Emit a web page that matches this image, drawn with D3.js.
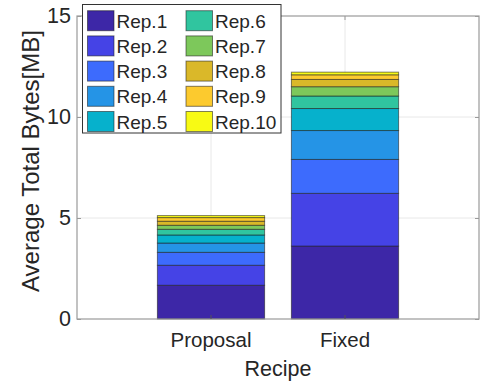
<!DOCTYPE html>
<html>
<head>
<meta charset="utf-8">
<script src="https://cdn.jsdelivr.net/npm/d3@7"></script>
<style>
  html, body { margin: 0; padding: 0; background: #fff; }
  svg { display: block; font-family: "Liberation Sans", Arial, sans-serif; }
</style>
</head>
<body>
<svg id="chart" width="480" height="382"></svg>
<script>
// Stacked bars: average total bytes per repetition for each recipe
const recipes = ["Proposal", "Fixed"];
const reps = ["Rep.1", "Rep.2", "Rep.3", "Rep.4", "Rep.5", "Rep.6", "Rep.7", "Rep.8", "Rep.9", "Rep.10"];
const proposalMB = [1.67, 0.99, 0.64, 0.46, 0.40, 0.28, 0.20, 0.20, 0.18, 0.10];
const fixedMB    = [3.61, 2.61, 1.68, 1.43, 1.09, 0.62, 0.46, 0.36, 0.23, 0.13];
const repColors = ["#3d27a7", "#4543e6", "#3d6bfd", "#2594e6", "#06b1cc",
                   "#30c59f", "#7dc85b", "#dab829", "#fcca2e", "#f8fa14"];
const yTicks = [0, 5, 10, 15];
const yLabel = "Average Total Bytes[MB]";
const xLabel = "Recipe";

const svg = d3.select("#chart");
const plotL = 77, plotR = 479, plotT = 16, plotB = 319;

const x = d3.scaleBand().domain(recipes).range([plotL, plotR])
  .paddingInner(0.2).paddingOuter(0.6);
const y = d3.scaleLinear().domain([0, 15]).range([plotB, plotT]);
const color = d3.scaleOrdinal().domain(reps).range(repColors);

// Table of rows for d3.stack
const rows = recipes.map((r, i) => {
  const src = i === 0 ? proposalMB : fixedMB;
  const o = { recipe: r };
  reps.forEach((k, j) => { o[k] = src[j]; });
  return o;
});
const series = d3.stack().keys(reps)(rows);

const axisGray = "#9a9a9a";
const textColor = "#262626";
const fontStack = "'Liberation Sans', Arial, sans-serif";

// Grid lines
const grid = svg.append("g");
grid.selectAll("line.gy").data(yTicks.filter(t => t > 0 && t < 15)).join("line")
  .attr("x1", plotL).attr("x2", plotR)
  .attr("y1", d => y(d)).attr("y2", d => y(d))
  .attr("stroke", "#e8e8e8").attr("stroke-width", 1);
grid.selectAll("line.gx").data(recipes).join("line")
  .attr("x1", d => x(d) + x.bandwidth() / 2).attr("x2", d => x(d) + x.bandwidth() / 2)
  .attr("y1", plotT).attr("y2", plotB)
  .attr("stroke", "#e8e8e8").attr("stroke-width", 1);

// Bars
svg.append("g").selectAll("g").data(series).join("g")
  .attr("fill", d => color(d.key))
  .selectAll("rect").data(d => d).join("rect")
  .attr("x", d => x(d.data.recipe))
  .attr("width", x.bandwidth())
  .attr("y", d => y(d[1]))
  .attr("height", d => y(d[0]) - y(d[1]))
  .attr("stroke", "#1a1a1a").attr("stroke-opacity", 0.55).attr("stroke-width", 1);

// Axis box
svg.append("rect")
  .attr("x", plotL).attr("y", plotT)
  .attr("width", plotR - plotL).attr("height", plotB - plotT)
  .attr("fill", "none").attr("stroke", axisGray).attr("stroke-width", 1.2);

// Y axis (ticks inward) and mirrored ticks on the right
const yAxis = d3.axisLeft(y).tickValues(yTicks).tickSize(-4).tickPadding(6);
const gy = svg.append("g").attr("transform", `translate(${plotL},0)`).call(yAxis);
gy.select(".domain").remove();
gy.selectAll(".tick line").attr("stroke", axisGray);
gy.selectAll(".tick text").attr("fill", textColor)
  .style("font-family", fontStack).style("font-size", "21.5px");

const gyR = svg.append("g").attr("transform", `translate(${plotR},0)`)
  .call(d3.axisRight(y).tickValues(yTicks).tickSize(-4).tickFormat(""));
gyR.select(".domain").remove();
gyR.selectAll(".tick line").attr("stroke", axisGray);

// X axis
const xAxis = d3.axisBottom(x).tickSize(-4).tickPadding(13);
const gx = svg.append("g").attr("transform", `translate(0,${plotB})`).call(xAxis);
gx.select(".domain").remove();
gx.selectAll(".tick line").attr("stroke", "#555");
gx.selectAll(".tick text").attr("fill", textColor)
  .style("font-family", fontStack).style("font-size", "20.5px");

const gxT = svg.append("g").attr("transform", `translate(0,${plotT})`)
  .call(d3.axisTop(x).tickSize(-4).tickFormat(""));
gxT.select(".domain").remove();
gxT.selectAll(".tick line").attr("stroke", axisGray);

// Axis titles
svg.append("text")
  .attr("x", (plotL + plotR) / 2).attr("y", 376)
  .attr("text-anchor", "middle").attr("fill", textColor)
  .style("font-size", "21.5px").text(xLabel);

svg.append("text")
  .attr("transform", "translate(39,161) rotate(-90)")
  .attr("text-anchor", "middle").attr("fill", textColor)
  .style("font-size", "24px").text(yLabel);

// Legend
const lg = svg.append("g");
lg.append("rect")
  .attr("x", 82.5).attr("y", 4.5).attr("width", 198.5).attr("height", 128.5)
  .attr("fill", "#fff").attr("stroke", "#333").attr("stroke-width", 1);
const items = lg.selectAll("g").data(reps).join("g")
  .attr("transform", (d, i) => {
    const col = Math.floor(i / 5), row = i % 5;
    return `translate(${87.5 + col * 98.5},${20.7 + row * 25.2})`;
  });
items.append("rect")
  .attr("x", 0).attr("y", -10).attr("width", 26.5).attr("height", 20)
  .attr("fill", d => color(d))
  .attr("stroke", "#1a1a1a").attr("stroke-opacity", 0.55).attr("stroke-width", 1);
items.append("text")
  .attr("x", 29).attr("y", 7)
  .attr("fill", textColor).style("font-size", "19px")
  .text(d => d);
</script>
</body>
</html>
